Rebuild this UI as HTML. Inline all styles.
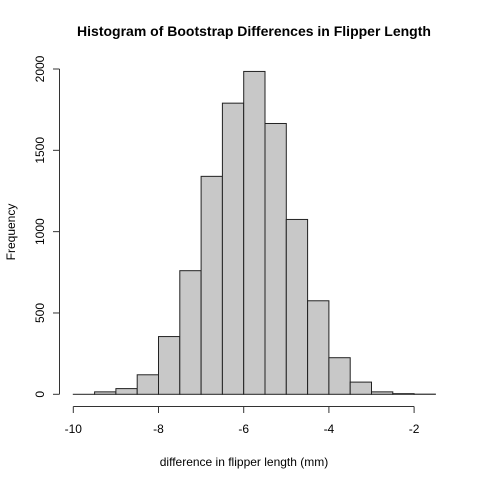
<!DOCTYPE html>
<html><head><meta charset="utf-8"><style>
html,body{margin:0;padding:0;background:#fff}
svg{display:block;font-family:"Liberation Sans",Arial,sans-serif}
</style></head><body>
<svg id="chart" width="480" height="480" viewBox="0 0 480 480">
<rect width="480" height="480" fill="#fff"/>
<text x="254" y="36" text-anchor="middle" font-weight="bold" font-size="14">Histogram of Bootstrap Differences in Flipper Length</text>
<text x="244" y="466" text-anchor="middle" font-size="12">difference in flipper length (mm)</text>
<text transform="translate(15,232) rotate(-90)" text-anchor="middle" font-size="12">Frequency</text>
<g id="bars"></g><g id="axes"></g>
</svg>
<script>
const binStarts = [-10,-9.5,-9,-8.5,-8,-7.5,-7,-6.5,-6,-5.5,-5,-4.5,-4,-3.5,-3,-2.5,-2];
const counts = [0,15,35,120,355,760,1340,1790,1985,1665,1075,575,225,75,15,4,1];
const binWidth = 0.5;
const xTicks = [-10,-8,-6,-4,-2];
const yTicks = [0,500,1000,1500,2000];
const NS="http://www.w3.org/2000/svg";
const sx = v => 73.3 + (v + 10) * 42.6;
const sy = v => 394.3 - v * 0.16265;
const bars=document.getElementById('bars'), axes=document.getElementById('axes');
function mk(tag, attrs, parent){const e=document.createElementNS(NS,tag);for(const k in attrs)e.setAttribute(k,attrs[k]);parent.appendChild(e);return e;}
binStarts.forEach((b,i)=>{
  const x0=sx(b), x1=sx(b+binWidth), y=sy(counts[i]);
  const h=Math.max(sy(0)-y,0.01);
  const r=mk('rect',{x:x0,y:sy(0)-h,width:x1-x0,height:h,fill:'#c8c8c8',stroke:'#222','stroke-width':1},bars);
  
  
});
const xa=mk('g',{},axes);


mk('line',{x1:sx(xTicks[0]),x2:sx(xTicks[xTicks.length-1]),y1:406.5,y2:406.5,stroke:'#333'},xa);
xTicks.forEach(t=>{
  mk('line',{x1:sx(t),x2:sx(t),y1:406.5,y2:413,stroke:'#333'},xa);
  const tx=mk('text',{x:sx(t),y:433,'text-anchor':'middle','font-size':12},xa);
  tx.textContent=t;
  
  
});
const ya=mk('g',{},axes);


mk('line',{x1:59.5,x2:59.5,y1:sy(yTicks[0]),y2:sy(yTicks[yTicks.length-1]),stroke:'#333'},ya);
yTicks.forEach(t=>{
  mk('line',{x1:53,x2:59.5,y1:sy(t),y2:sy(t),stroke:'#333'},ya);
  const tx=mk('text',{transform:`translate(44,${sy(t)}) rotate(-90)`,'text-anchor':'middle','font-size':12},ya);
  tx.textContent=t;
  
  
});
</script>
</body></html>
